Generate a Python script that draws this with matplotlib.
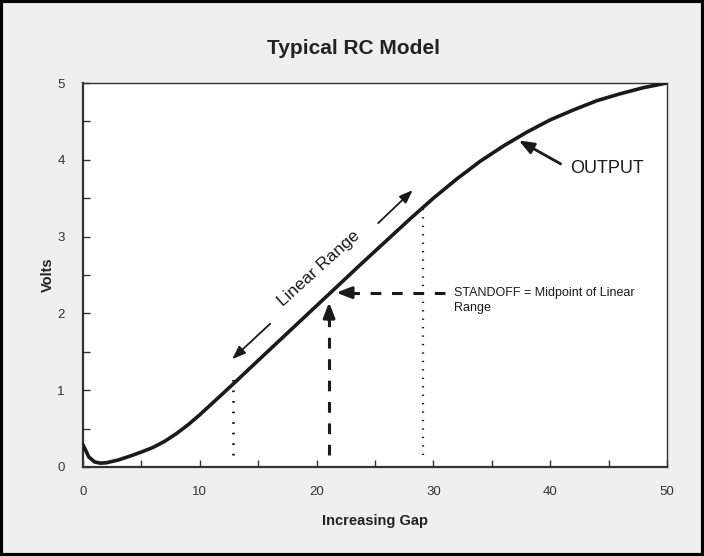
import matplotlib
matplotlib.use('Agg')
import matplotlib.pyplot as plt
import matplotlib.patches as patches

# curva de salida (Gap vs Volts)
gap = [0, 0.5, 1, 1.5, 2, 3, 4, 5, 6, 7, 8, 9, 10, 11, 12, 13, 14, 16, 18, 20, 22, 24, 26,
       28, 30, 32, 34, 36, 38, 40, 42, 44, 46, 48, 50]
volts = [0.29, 0.13, 0.065, 0.05, 0.055, 0.09, 0.14, 0.195, 0.255, 0.335, 0.435,
         0.55, 0.68, 0.82, 0.96, 1.10, 1.245, 1.53, 1.815, 2.10, 2.385, 2.67, 2.95,
         3.23, 3.50, 3.75, 3.98, 4.18, 4.36, 4.52, 4.65, 4.77, 4.86, 4.94, 5.0]

x_major = [0, 10, 20, 30, 40, 50]
y_major = [0, 1, 2, 3, 4, 5]

lin_lo, lin_hi = 12.85, 29.1        # limites del rango lineal
lin_lo_top, lin_hi_top = 1.14, 3.45
standoff = (21.1, 2.22)

bg = '#EFEFEF'
ink = '#1a1a1a'
sans = ['Liberation Sans', 'DejaVu Sans']

fig = plt.figure(figsize=(7.04, 5.56), dpi=100, facecolor=bg)
ax = fig.add_axes([0.1179, 0.1601, 0.8295, 0.6906])
ax.set_facecolor('white')

ax.plot(gap, volts, color=ink, lw=2.6, solid_joinstyle='round', solid_capstyle='round', zorder=5)

# lineas punteadas del rango lineal
ax.plot([lin_lo, lin_lo], [0.16, lin_lo_top], color=ink, lw=2, ls=(0, (0.6, 3.2)))
ax.plot([lin_hi, lin_hi], [0.16, lin_hi_top], color=ink, lw=1.6, ls=(0, (0.6, 3.2)))

# standoff
ax.plot([standoff[0] - 0.03, standoff[0] - 0.03], [0.16, standoff[1] - 0.25],
        color=ink, lw=2.2, ls=(0, (3.5, 3.5)))
ax.annotate('', xy=(standoff[0] - 0.03, standoff[1] - 0.04), xytext=(standoff[0] - 0.03, standoff[1] - 0.35),
            arrowprops=dict(arrowstyle='-|>,head_length=0.9,head_width=0.35', color=ink, lw=2.2))
ax.plot([31.0, standoff[0] + 1.6], [2.27, 2.27], color=ink, lw=2.2, ls=(0, (3.5, 3.5)))
ax.annotate('', xy=(standoff[0] + 0.35, 2.27), xytext=(standoff[0] + 2.2, 2.27),
            arrowprops=dict(arrowstyle='-|>,head_length=0.9,head_width=0.35', color=ink, lw=2.2))
ax.text(31.8, 2.34, 'STANDOFF = Midpoint of Linear\nRange', fontsize=9, family=sans,
        color=ink, ha='left', va='top', linespacing=1.35)

# rango lineal
ax.annotate('', xy=(28.4, 3.63), xytext=(25.1, 3.15),
            arrowprops=dict(arrowstyle='-|>,head_length=0.8,head_width=0.3', color=ink, lw=1.3))
ax.annotate('', xy=(12.6, 1.38), xytext=(16.2, 1.89),
            arrowprops=dict(arrowstyle='-|>,head_length=0.8,head_width=0.3', color=ink, lw=1.3))
ax.text(20.2, 2.58, 'Linear Range', fontsize=12.5, family=sans, color=ink,
        rotation=42, ha='center', va='center', rotation_mode='anchor')

# output
ax.annotate('', xy=(37.1, 4.27), xytext=(41.1, 3.93),
            arrowprops=dict(arrowstyle='-|>,head_length=0.9,head_width=0.35', color=ink, lw=2))
ax.text(41.7, 3.89, 'OUTPUT', fontsize=13, family=sans, color=ink, ha='left', va='center')

ax.set_xlim(0, 50)
ax.set_ylim(0, 5)
ax.set_xticks(x_major)
ax.set_xticks([5, 15, 25, 35, 45], minor=True)
ax.set_yticks(y_major)
ax.set_yticks([0.5, 1.5, 2.5, 3.5, 4.5], minor=True)
ax.tick_params(which='both', direction='in', color='#333333', width=1, length=5)
ax.tick_params(axis='x', pad=14, labelsize=9.5, labelcolor='#333333')
ax.tick_params(axis='y', pad=13, labelsize=9.5, labelcolor='#333333')
for lab in ax.get_xticklabels() + ax.get_yticklabels():
    lab.set_family(sans)

for s in ['left', 'bottom']:
    ax.spines[s].set_color('#333333')
    ax.spines[s].set_linewidth(1.6)
for s in ['top', 'right']:
    ax.spines[s].set_color('#333333')
    ax.spines[s].set_linewidth(1.0)

ax.set_xlabel('Increasing Gap', fontsize=10.5, fontweight='bold', family=sans, color='#222222', labelpad=11)
ax.set_ylabel('Volts', fontsize=10.5, fontweight='bold', family=sans, color='#222222', labelpad=2)
fig.text(0.502, 0.913, 'Typical RC Model', fontsize=15, fontweight='bold', family=sans,
         color='#222222', ha='center', va='center')

# marco de la figura
fig.patches.append(patches.Rectangle((0.002, 0.002), 0.996, 0.996, transform=fig.transFigure,
                                     fill=False, ec='black', lw=3))

fig.savefig('out.png', dpi=100, facecolor=bg)
